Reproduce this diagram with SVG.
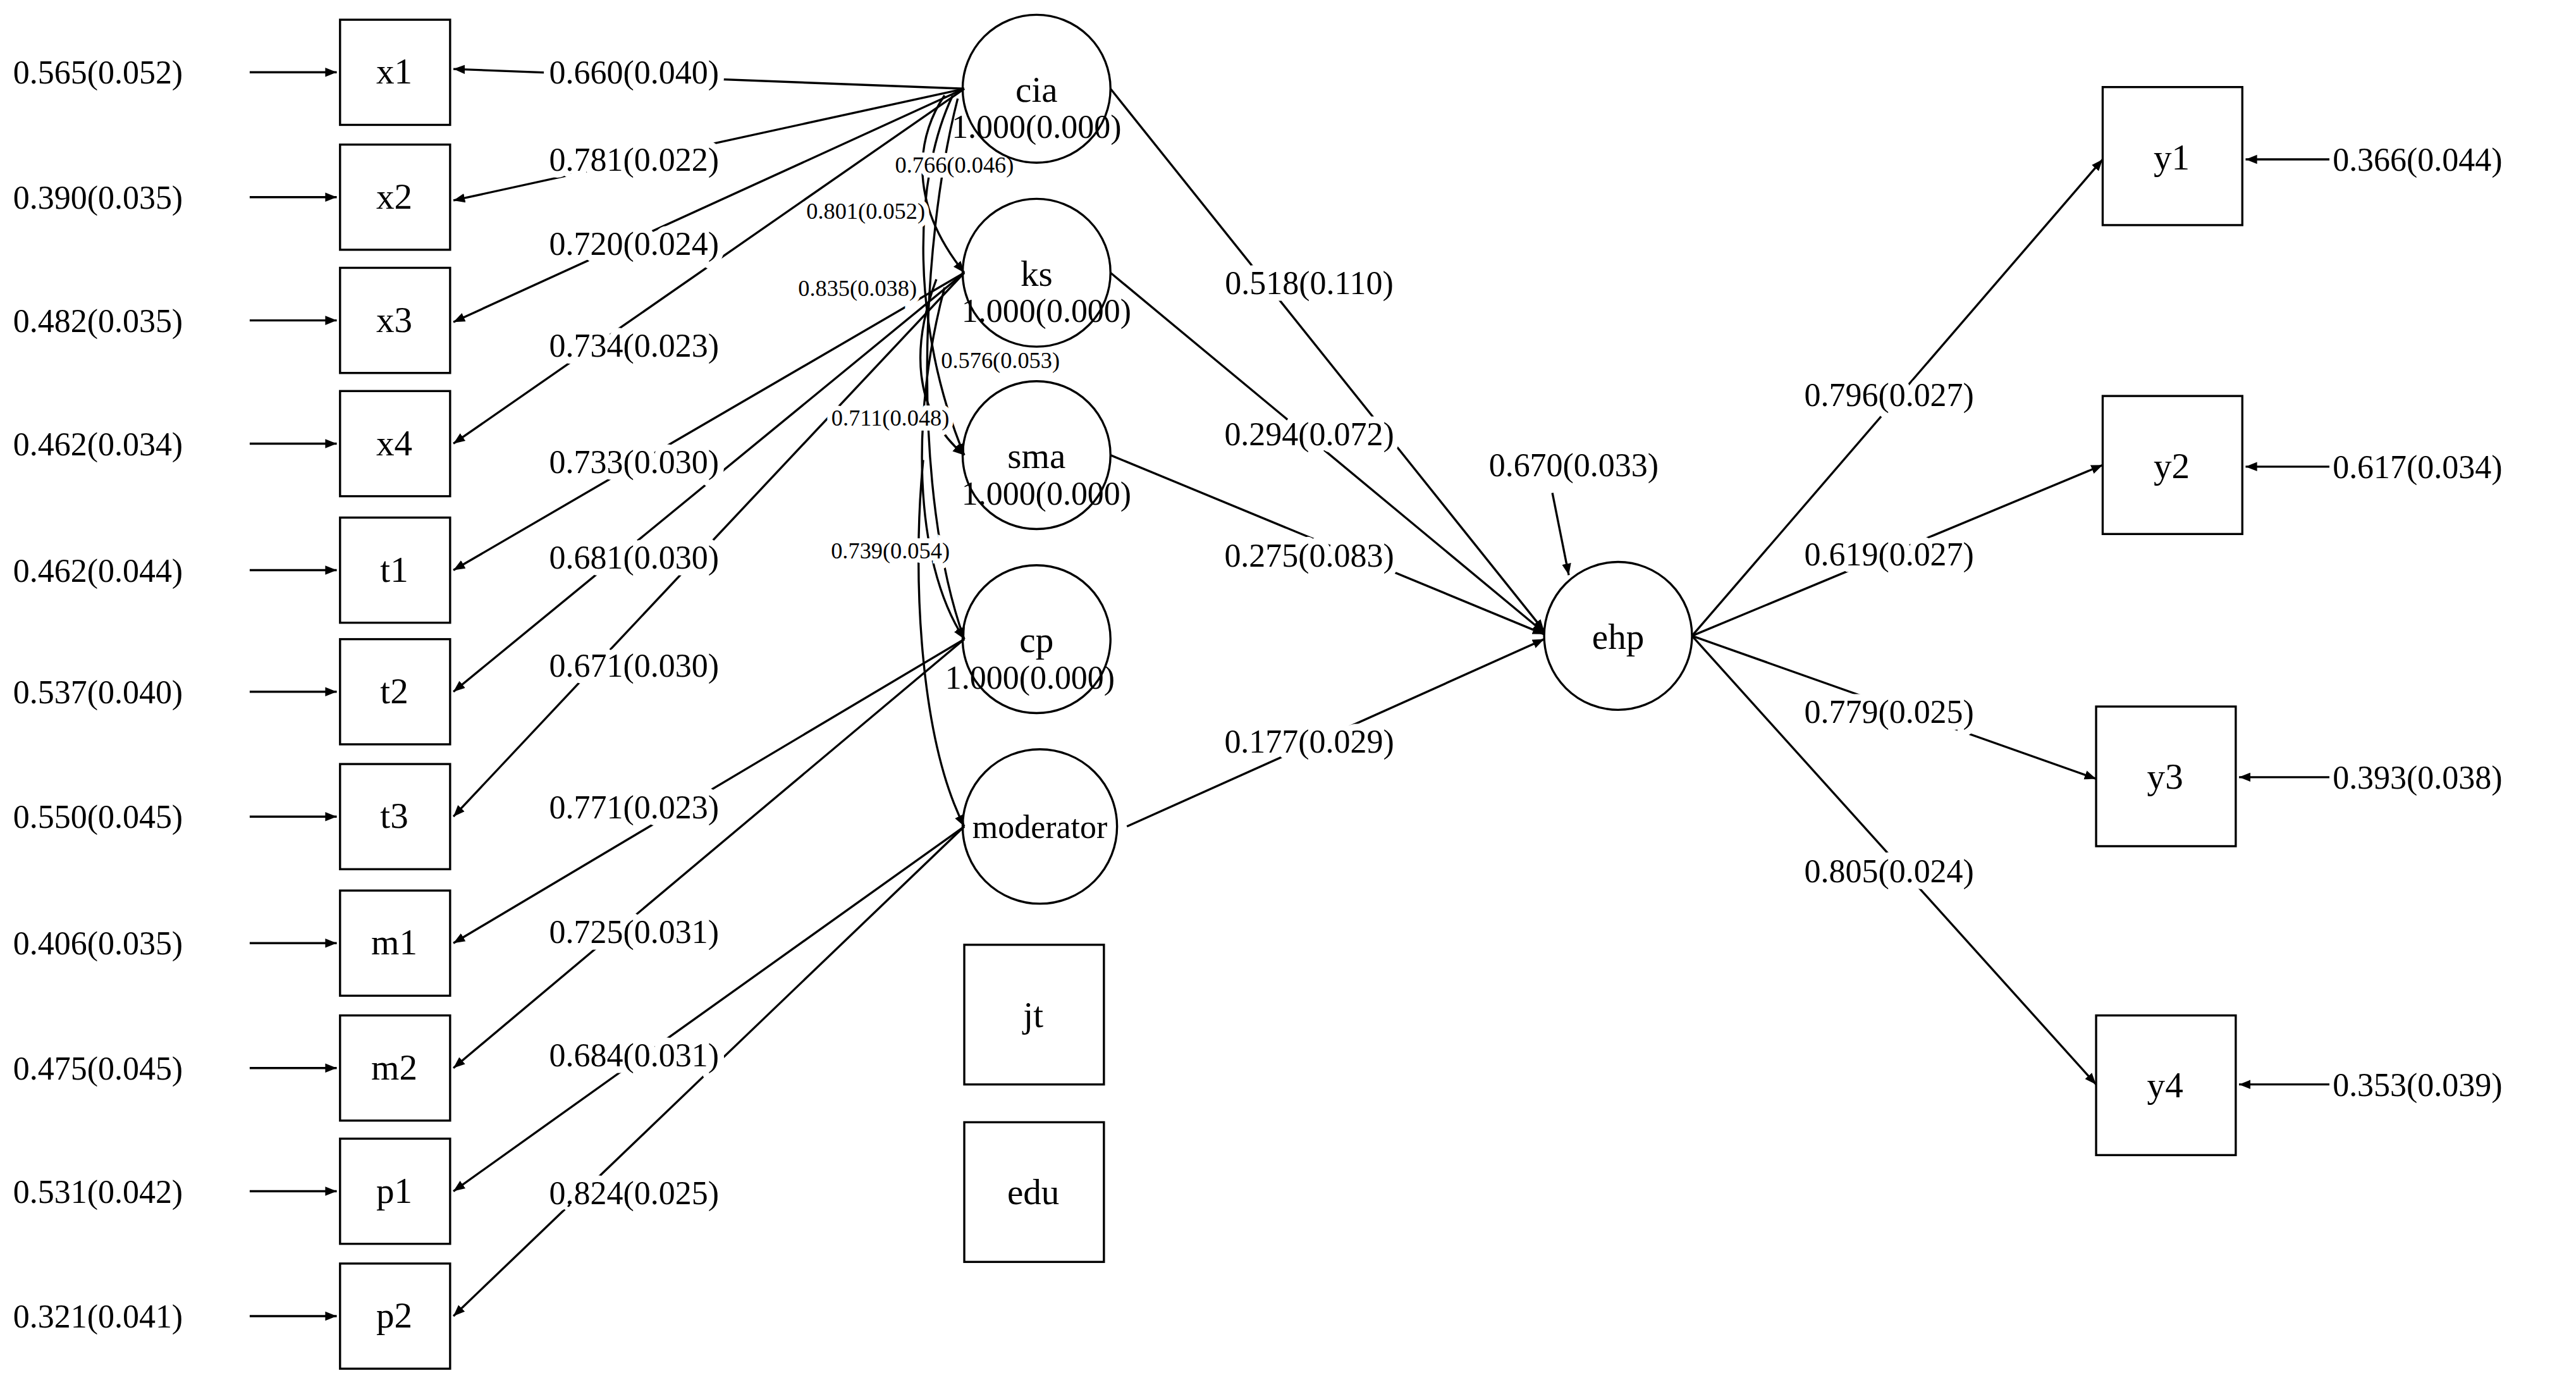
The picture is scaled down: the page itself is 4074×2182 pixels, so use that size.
<svg xmlns="http://www.w3.org/2000/svg" width="4074" height="2182" viewBox="0 0 4074 2182">
<defs>
<marker id="ah" viewBox="0 0 10 10" refX="10" refY="5" markerWidth="7" markerHeight="7" orient="auto" markerUnits="userSpaceOnUse"><path d="M0,1 L10,5 L0,9 z" fill="#000"/></marker>
<style>
text{font-family:"Liberation Serif","Times New Roman",serif;fill:#000}
.l{font-size:20px;text-anchor:middle;paint-order:stroke;stroke:#fff;stroke-width:8px;stroke-linejoin:round}
.s{font-size:14px;text-anchor:middle;paint-order:stroke;stroke:#fff;stroke-width:6px}
.e{font-size:20px}
.n{font-size:22px;text-anchor:middle}
.v{font-size:20px;text-anchor:middle}
line,path.c{stroke:#000;stroke-width:1.3;fill:none}
.b{fill:#fff;stroke:#000;stroke-width:1.3}
</style>
</defs>
<rect width="4074" height="2182" fill="#fff"/>
<g transform="scale(2.598)">
<g id="connectors">
<!-- error arrows left -->
<line x1="152" y1="44" x2="205" y2="44" marker-end="url(#ah)"/>
<line x1="152" y1="120" x2="205" y2="120" marker-end="url(#ah)"/>
<line x1="152" y1="195" x2="205" y2="195" marker-end="url(#ah)"/>
<line x1="152" y1="270" x2="205" y2="270" marker-end="url(#ah)"/>
<line x1="152" y1="347" x2="205" y2="347" marker-end="url(#ah)"/>
<line x1="152" y1="421" x2="205" y2="421" marker-end="url(#ah)"/>
<line x1="152" y1="497" x2="205" y2="497" marker-end="url(#ah)"/>
<line x1="152" y1="574" x2="205" y2="574" marker-end="url(#ah)"/>
<line x1="152" y1="650" x2="205" y2="650" marker-end="url(#ah)"/>
<line x1="152" y1="725" x2="205" y2="725" marker-end="url(#ah)"/>
<line x1="152" y1="801" x2="205" y2="801" marker-end="url(#ah)"/>
<!-- loadings -->
<line x1="587" y1="54" x2="276" y2="42" marker-end="url(#ah)"/>
<line x1="587" y1="54" x2="276" y2="122" marker-end="url(#ah)"/>
<line x1="587" y1="54" x2="276" y2="196" marker-end="url(#ah)"/>
<line x1="587" y1="54" x2="276" y2="270" marker-end="url(#ah)"/>
<line x1="587" y1="166" x2="276" y2="347" marker-end="url(#ah)"/>
<line x1="587" y1="166" x2="276" y2="421" marker-end="url(#ah)"/>
<line x1="587" y1="166" x2="276" y2="497" marker-end="url(#ah)"/>
<line x1="587" y1="389" x2="276" y2="574" marker-end="url(#ah)"/>
<line x1="587" y1="389" x2="276" y2="650" marker-end="url(#ah)"/>
<line x1="587" y1="503" x2="276" y2="725" marker-end="url(#ah)"/>
<line x1="587" y1="503" x2="276" y2="801" marker-end="url(#ah)"/>
<!-- correlations -->
<path class="c" d="M575,58 C560,80 550,120 587,166" marker-end="url(#ah)"/>
<path class="c" d="M580,58 C555,110 555,200 587,277" marker-end="url(#ah)"/>
<path class="c" d="M583,60 C560,150 555,300 587,389" marker-end="url(#ah)"/>
<path class="c" d="M570,170 C555,210 555,250 587,277" marker-end="url(#ah)"/>
<path class="c" d="M575,175 C555,250 555,340 587,389" marker-end="url(#ah)"/>
<path class="c" d="M562,280 C555,350 560,450 587,503" marker-end="url(#ah)"/>
<!-- structural -->
<line x1="676" y1="54" x2="940" y2="384" marker-end="url(#ah)"/>
<line x1="676" y1="166" x2="940" y2="385" marker-end="url(#ah)"/>
<line x1="676" y1="277" x2="940" y2="386" marker-end="url(#ah)"/>
<line x1="686" y1="503" x2="940" y2="389" marker-end="url(#ah)"/>
<line x1="945" y1="300" x2="955" y2="350" marker-end="url(#ah)"/>
<!-- ehp indicators -->
<line x1="1030" y1="387" x2="1280" y2="97" marker-end="url(#ah)"/>
<line x1="1030" y1="387" x2="1280" y2="283" marker-end="url(#ah)"/>
<line x1="1030" y1="387" x2="1276" y2="474" marker-end="url(#ah)"/>
<line x1="1030" y1="387" x2="1276" y2="660" marker-end="url(#ah)"/>
<line x1="1418" y1="97" x2="1367" y2="97" marker-end="url(#ah)"/>
<line x1="1418" y1="284" x2="1367" y2="284" marker-end="url(#ah)"/>
<line x1="1418" y1="473" x2="1363" y2="473" marker-end="url(#ah)"/>
<line x1="1418" y1="660" x2="1363" y2="660" marker-end="url(#ah)"/>
</g>
<g id="labels">
<text class="l" x="386" y="51">0.660(0.040)</text>
<text class="l" x="386" y="104">0.781(0.022)</text>
<text class="l" x="386" y="155">0.720(0.024)</text>
<text class="l" x="386" y="217">0.734(0.023)</text>
<text class="l" x="386" y="288">0.733(0.030)</text>
<text class="l" x="386" y="346">0.681(0.030)</text>
<text class="l" x="386" y="412">0.671(0.030)</text>
<text class="l" x="386" y="498">0.771(0.023)</text>
<text class="l" x="386" y="574">0.725(0.031)</text>
<text class="l" x="386" y="649">0.684(0.031)</text>
<text class="l" x="386" y="733">0.824(0.025)</text>
<text class="s" x="581" y="105">0.766(0.046)</text>
<text class="s" x="527" y="133">0.801(0.052)</text>
<text class="s" x="522" y="180">0.835(0.038)</text>
<text class="s" x="609" y="224">0.576(0.053)</text>
<text class="s" x="542" y="259">0.711(0.048)</text>
<text class="s" x="542" y="340">0.739(0.054)</text>
<text class="l" x="797" y="179">0.518(0.110)</text>
<text class="l" x="797" y="271">0.294(0.072)</text>
<text class="l" x="797" y="345">0.275(0.083)</text>
<text class="l" x="797" y="458">0.177(0.029)</text>
<text class="l" x="958" y="290">0.670(0.033)</text>
<text class="l" x="1150" y="247">0.796(0.027)</text>
<text class="l" x="1150" y="344">0.619(0.027)</text>
<text class="l" x="1150" y="440">0.779(0.025)</text>
<text class="l" x="1150" y="537">0.805(0.024)</text>
<text class="e" x="8" y="51">0.565(0.052)</text>
<text class="e" x="8" y="127">0.390(0.035)</text>
<text class="e" x="8" y="202">0.482(0.035)</text>
<text class="e" x="8" y="277">0.462(0.034)</text>
<text class="e" x="8" y="354">0.462(0.044)</text>
<text class="e" x="8" y="428">0.537(0.040)</text>
<text class="e" x="8" y="504">0.550(0.045)</text>
<text class="e" x="8" y="581">0.406(0.035)</text>
<text class="e" x="8" y="657">0.475(0.045)</text>
<text class="e" x="8" y="732">0.531(0.042)</text>
<text class="e" x="8" y="808">0.321(0.041)</text>
<text class="e" x="1420" y="104">0.366(0.044)</text>
<text class="e" x="1420" y="291">0.617(0.034)</text>
<text class="e" x="1420" y="480">0.393(0.038)</text>
<text class="e" x="1420" y="667">0.353(0.039)</text>
</g>
<g id="x1"><rect class="b" x="207" y="12" width="67" height="64"/><text class="n" x="240" y="51">x1</text></g>
<g id="x2"><rect class="b" x="207" y="88" width="67" height="64"/><text class="n" x="240" y="127">x2</text></g>
<g id="x3"><rect class="b" x="207" y="163" width="67" height="64"/><text class="n" x="240" y="202">x3</text></g>
<g id="x4"><rect class="b" x="207" y="238" width="67" height="64"/><text class="n" x="240" y="277">x4</text></g>
<g id="t1"><rect class="b" x="207" y="315" width="67" height="64"/><text class="n" x="240" y="354">t1</text></g>
<g id="t2"><rect class="b" x="207" y="389" width="67" height="64"/><text class="n" x="240" y="428">t2</text></g>
<g id="t3"><rect class="b" x="207" y="465" width="67" height="64"/><text class="n" x="240" y="504">t3</text></g>
<g id="m1"><rect class="b" x="207" y="542" width="67" height="64"/><text class="n" x="240" y="581">m1</text></g>
<g id="m2"><rect class="b" x="207" y="618" width="67" height="64"/><text class="n" x="240" y="657">m2</text></g>
<g id="p1"><rect class="b" x="207" y="693" width="67" height="64"/><text class="n" x="240" y="732">p1</text></g>
<g id="p2"><rect class="b" x="207" y="769" width="67" height="64"/><text class="n" x="240" y="808">p2</text></g>
<g id="cia"><circle cx="631" cy="54" r="45" fill="none" stroke="#000" stroke-width="1.3"/><text class="n" x="631" y="62">cia</text><text class="v" x="631" y="84">1.000(0.000)</text></g>
<g id="ks"><circle cx="631" cy="166" r="45" fill="none" stroke="#000" stroke-width="1.3"/><text class="n" x="631" y="174">ks</text><text class="v" x="637" y="196">1.000(0.000)</text></g>
<g id="sma"><circle cx="631" cy="277" r="45" fill="none" stroke="#000" stroke-width="1.3"/><text class="n" x="631" y="285">sma</text><text class="v" x="637" y="307">1.000(0.000)</text></g>
<g id="cp"><circle cx="631" cy="389" r="45" fill="none" stroke="#000" stroke-width="1.3"/><text class="n" x="631" y="397">cp</text><text class="v" x="627" y="419">1.000(0.000)</text></g>
<g id="moderator"><circle cx="633" cy="503" r="47" fill="none" stroke="#000" stroke-width="1.3"/><text class="n" x="633" y="510" style="font-size:20px">moderator</text></g>
<g id="jt"><rect class="b" x="587" y="575" width="85" height="85"/><text class="n" x="629" y="625">jt</text></g>
<g id="edu"><rect class="b" x="587" y="683" width="85" height="85"/><text class="n" x="629" y="733">edu</text></g>
<g id="ehp"><circle cx="985" cy="387" r="45" fill="#fff" stroke="#000" stroke-width="1.3"/><text class="n" x="985" y="395">ehp</text></g>
<g id="y1"><rect class="b" x="1280" y="53" width="85" height="84"/><text class="n" x="1322" y="103">y1</text></g>
<g id="y2"><rect class="b" x="1280" y="241" width="85" height="84"/><text class="n" x="1322" y="291">y2</text></g>
<g id="y3"><rect class="b" x="1276" y="430" width="85" height="85"/><text class="n" x="1318" y="480">y3</text></g>
<g id="y4"><rect class="b" x="1276" y="618" width="85" height="85"/><text class="n" x="1318" y="668">y4</text></g>
</g>
</svg>
